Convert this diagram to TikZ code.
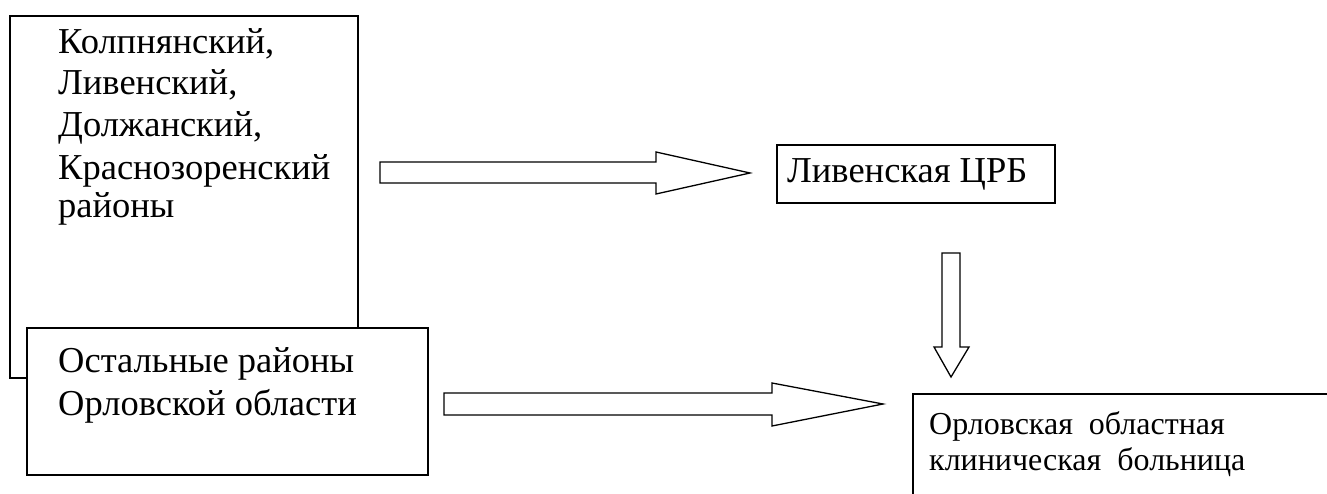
\documentclass[tikz,border=0pt]{standalone}
\usepackage{fontspec}
\setmainfont{Liberation Serif}
\begin{document}
\begin{tikzpicture}[x=1pt,y=-1pt,
  box/.style={draw, line width=1.6pt, fill=white, anchor=north west, inner sep=0pt},
  txt/.style={anchor=base west, inner sep=0pt, font=\fontsize{36.5}{42}\selectfont},
  smalltxt/.style={anchor=base west, inner sep=0pt, font=\fontsize{32}{38}\selectfont},
  blk/.style={draw, line width=1.3pt, fill=white, line join=miter}]
\useasboundingbox (0,0) rectangle (1327,494);
\clip (0,0) rectangle (1327,494);
% boxes
\node[box, minimum width=348pt, minimum height=362pt] (b1) at (9,15) {};
\node[box, minimum width=401pt, minimum height=147pt] (b2) at (26,327) {};
\node[box, minimum width=278pt, minimum height=58pt] (b3) at (776,144) {};
\node[box, minimum width=500pt, minimum height=200pt] (b4) at (912,393) {};
% texts
\node[txt] (t1a) at (58,54) {Колпнянский,};
\node[txt] (t1b) at (58,95) {Ливенский,};
\node[txt] (t1c) at (58,137) {Должанский,};
\node[txt] (t1d) at (58,180) {Краснозоренский};
\node[txt] (t1e) at (58,218) {районы};
\node[txt] (t2a) at (58,372) {Остальные районы};
\node[txt] (t2b) at (58,415) {Орловской области};
\node[txt] (t3) at (787,183) {Ливенская ЦРБ};
\node[smalltxt] (t4a) at (929,434) {Орловская\ \ областная};
\node[smalltxt] (t4b) at (929,470) {клиническая\ \ больница};
% block arrows
\draw[blk] (380,162) -- (656,162) -- (656,152) -- (750,173) -- (656,194) -- (656,183) -- (380,183) -- cycle;
\draw[blk] (942,253) -- (960,253) -- (960,347) -- (969,347) -- (951,377) -- (934,347) -- (942,347) -- cycle;
\draw[blk] (444,393) -- (772,393) -- (772,383) -- (883,404) -- (772,426) -- (772,415) -- (444,415) -- cycle;
\end{tikzpicture}
\end{document}
